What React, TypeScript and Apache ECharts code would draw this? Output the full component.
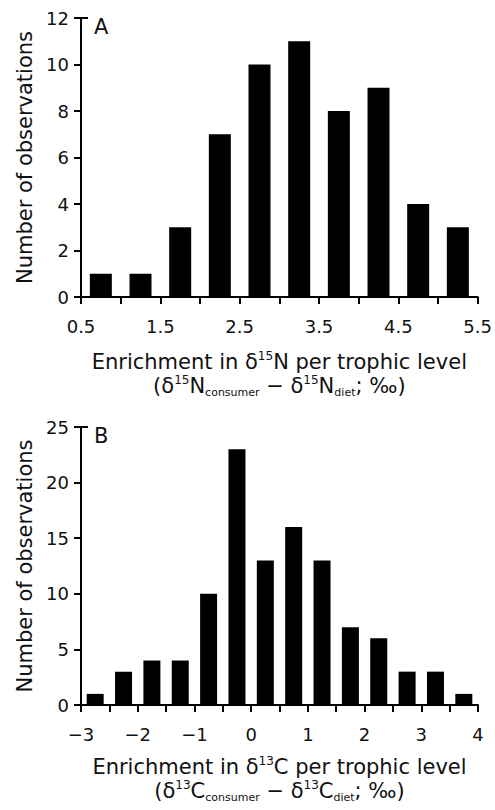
import React, { useEffect, useRef } from "react";
import * as echarts from "echarts";

// Panel A: enrichment in δ15N (bin centres, counts)
const binsA = [0.75, 1.25, 1.75, 2.25, 2.75, 3.25, 3.75, 4.25, 4.75, 5.25];
const countsA = [1, 1, 3, 7, 10, 11, 8, 9, 4, 3];
const xTicksA = ["0.5", "1.5", "2.5", "3.5", "4.5", "5.5"];
const yTicksA = [0, 2, 4, 6, 8, 10, 12];

// Panel B: enrichment in δ13C
const binsB = [-2.75, -2.25, -1.75, -1.25, -0.75, -0.25, 0.25, 0.75, 1.25, 1.75, 2.25, 2.75, 3.25, 3.75];
const countsB = [1, 3, 4, 4, 10, 23, 13, 16, 13, 7, 6, 3, 3, 1];
const xTicksB = ["−3", "−2", "−1", "0", "1", "2", "3", "4"];
const yTicksB = [0, 5, 10, 15, 20, 25];

const FONT = "DejaVu Sans";
const INK = "#111";

const toNum = (s: string) => parseFloat(s.replace("−", "-"));

const richName = {
  b: { fontSize: 21, lineHeight: 24, fontFamily: FONT, color: INK },
  sup: { fontSize: 12, lineHeight: 12, verticalAlign: "top", fontFamily: FONT, color: INK },
  sub: { fontSize: 11, lineHeight: 2, verticalAlign: "bottom", fontFamily: FONT, color: INK, padding: [6, 0, 0, 0] },
};

const nameA =
  "{b|Enrichment in δ}{sup|15}{b|N per trophic level}\n" +
  "{b|(δ}{sup|15}{b|N}{sub|consumer}{b| − δ}{sup|15}{b|N}{sub|diet}{b|; ‰)}";
const nameB =
  "{b|Enrichment in δ}{sup|13}{b|C per trophic level}\n" +
  "{b|(δ}{sup|13}{b|C}{sub|consumer}{b| − δ}{sup|13}{b|C}{sub|diet}{b|; ‰)}";

function makeX(gridIndex: number, ticks: string[], min: number, max: number, name: string, gap: number) {
  return {
    type: "value",
    gridIndex,
    min,
    max,
    interval: 0.5,
    name,
    nameLocation: "middle",
    nameGap: gap,
    nameTextStyle: { rich: richName, align: "center" },
    axisLine: { show: true, onZero: false, lineStyle: { color: "#000", width: 2 } },
    axisTick: { show: true, length: 7, lineStyle: { color: "#000", width: 2 } },
    axisLabel: {
      fontFamily: FONT,
      fontSize: 18,
      color: INK,
      margin: 20,
      showMinLabel: true,
      showMaxLabel: true,
      formatter: (v: number) => {
        const t = ticks.find((s) => Math.abs(toNum(s) - v) < 1e-6);
        return t ?? "";
      },
    },
    splitLine: { show: false },
  };
}

function makeY(gridIndex: number, ticks: number[]) {
  return {
    type: "value",
    gridIndex,
    min: ticks[0],
    max: ticks[ticks.length - 1],
    interval: ticks[1] - ticks[0],
    name: "Number of observations",
    nameLocation: "middle",
    nameGap: 41,
    nameTextStyle: { fontFamily: FONT, fontSize: 21, color: INK },
    axisLine: { show: true, onZero: false, lineStyle: { color: "#000", width: 2 } },
    axisTick: { show: true, length: 7, lineStyle: { color: "#000", width: 2 } },
    axisLabel: { fontFamily: FONT, fontSize: 18, color: INK, margin: 12 },
    splitLine: { show: false },
  };
}

export default function App() {
  const ref = useRef<HTMLDivElement>(null);
  useEffect(() => {
    document.body.style.margin = "0";
    if (!ref.current) return;
    const chart = echarts.init(ref.current, undefined, { renderer: "svg" });
    chart.setOption({
      animation: false,
      backgroundColor: "#fff",
      grid: [
        { left: 81, width: 397, top: 18, height: 279 },
        { left: 81, width: 397, top: 427, height: 278 },
      ],
      xAxis: [makeX(0, xTicksA, 0.5, 5.5, nameA, 53), makeX(1, xTicksB, -3, 4, nameB, 50)],
      yAxis: [makeY(0, yTicksA), makeY(1, yTicksB)],
      series: [
        {
          type: "bar",
          xAxisIndex: 0,
          yAxisIndex: 0,
          barWidth: 22,
          itemStyle: { color: "#000" },
          data: binsA.map((b, i) => [b, countsA[i]]),
        },
        {
          type: "bar",
          xAxisIndex: 1,
          yAxisIndex: 1,
          barWidth: 17,
          itemStyle: { color: "#000" },
          data: binsB.map((b, i) => [b, countsB[i]]),
        },
      ],
    });
    // Top caps of the y-axes and panel letters, placed via the axes' own scales
    const capA = chart.convertToPixel({ gridIndex: 0 }, [0.5, yTicksA[yTicksA.length - 1]]) as number[];
    const capB = chart.convertToPixel({ gridIndex: 1 }, [-3, yTicksB[yTicksB.length - 1]]) as number[];
    chart.setOption({
      graphic: [
        { type: "line", shape: { x1: capA[0], y1: capA[1], x2: capA[0] + 7, y2: capA[1] }, style: { stroke: "#000", lineWidth: 2 } },
        { type: "line", shape: { x1: capB[0], y1: capB[1], x2: capB[0] + 7, y2: capB[1] }, style: { stroke: "#000", lineWidth: 2 } },
        { type: "text", x: capA[0] + 13, y: capA[1] - 2, style: { text: "A", fontFamily: FONT, fontSize: 21, fill: INK } },
        { type: "text", x: capB[0] + 13, y: capB[1] - 2, style: { text: "B", fontFamily: FONT, fontSize: 21, fill: INK } },
      ],
    });
    return () => chart.dispose();
  }, []);
  return <div ref={ref} style={{ width: 495, height: 810 }} />;
}
